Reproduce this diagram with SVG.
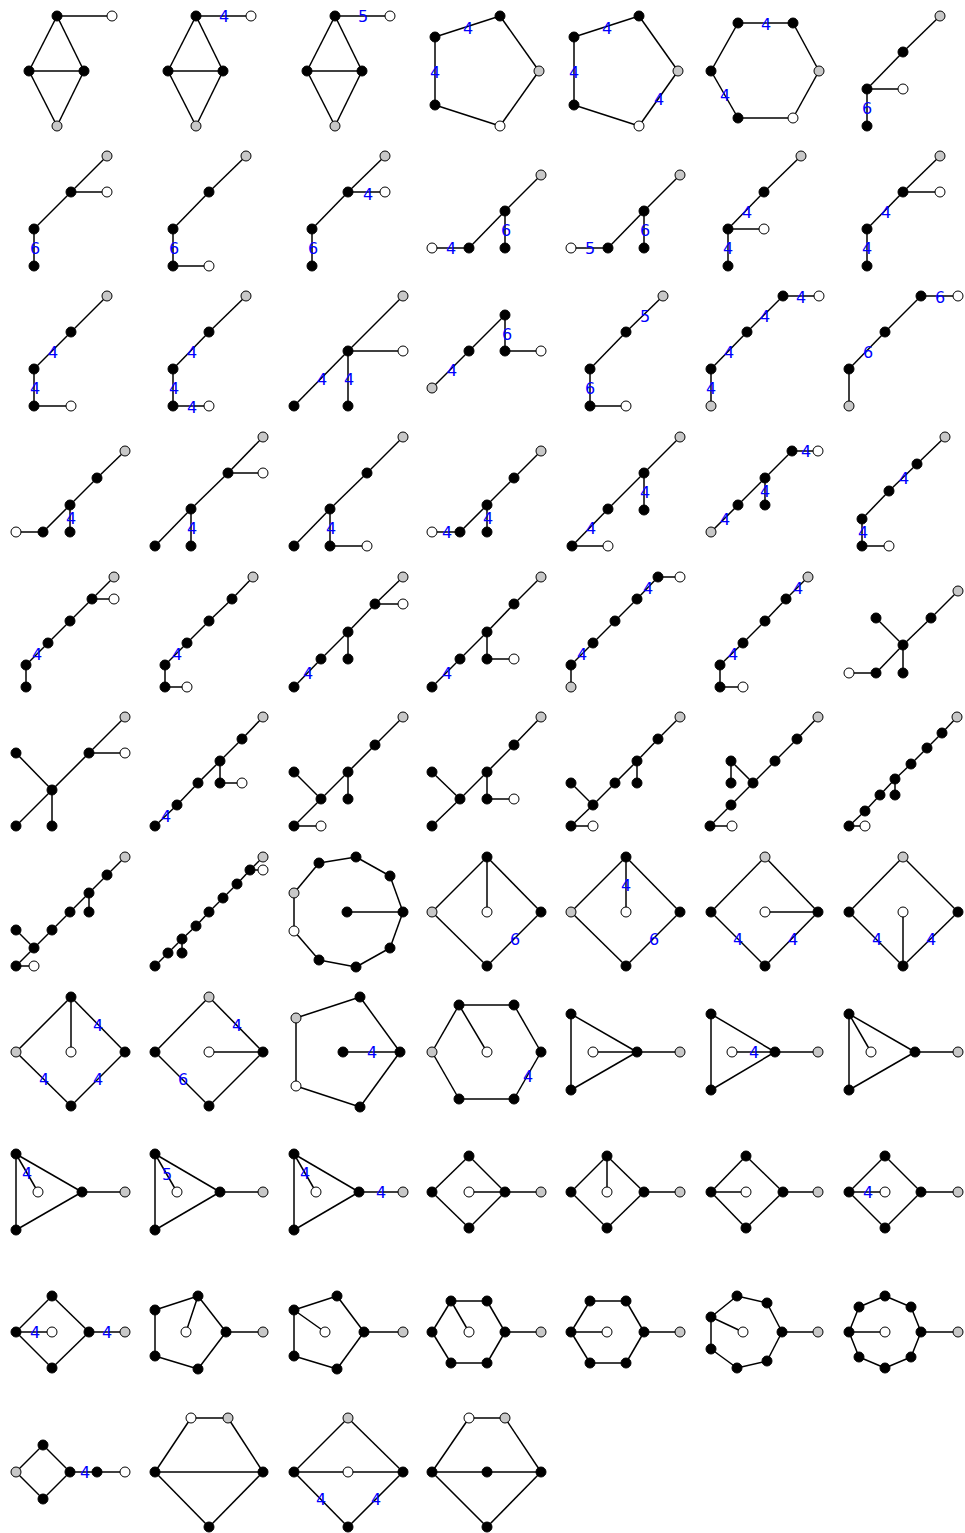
<svg xmlns="http://www.w3.org/2000/svg" width="965" height="1533" viewBox="0 0 965 1533">
<style>
line{stroke:#000;stroke-width:1.5;fill:none}
circle{stroke:#000;stroke-width:1}
.b{fill:#000}.w{fill:#fff}.g{fill:#c8c8c8}
text{font-family:"DejaVu Sans",sans-serif;font-size:16px;fill:#0000ff;text-anchor:middle}
</style>
<rect width="965" height="1533" fill="#fff"/>
<!-- Row 1 -->
<g id="g1"><g class="edges"><line x1="57" y1="16" x2="112" y2="16"/><line x1="57" y1="16" x2="29" y2="71"/><line x1="57" y1="16" x2="84" y2="71"/><line x1="29" y1="71" x2="84" y2="71"/><line x1="29" y1="71" x2="57" y2="126"/><line x1="84" y1="71" x2="57" y2="126"/></g>
<g class="nodes"><circle class="b" cx="57" cy="16" r="5"/><circle class="w" cx="112" cy="16" r="5"/><circle class="b" cx="29" cy="71" r="5"/><circle class="b" cx="84" cy="71" r="5"/><circle class="g" cx="57" cy="126" r="5"/></g></g>
<g id="g2"><g class="edges"><line x1="196" y1="16" x2="251" y2="16"/><line x1="196" y1="16" x2="168" y2="71"/><line x1="196" y1="16" x2="223" y2="71"/><line x1="168" y1="71" x2="223" y2="71"/><line x1="168" y1="71" x2="196" y2="126"/><line x1="223" y1="71" x2="196" y2="126"/></g>
<g class="nodes"><circle class="b" cx="196" cy="16" r="5"/><circle class="w" cx="251" cy="16" r="5"/><circle class="b" cx="168" cy="71" r="5"/><circle class="b" cx="223" cy="71" r="5"/><circle class="g" cx="196" cy="126" r="5"/></g>
<g class="labels"><text x="224" y="22">4</text></g></g>
<g id="g3"><g class="edges"><line x1="335" y1="16" x2="390" y2="16"/><line x1="335" y1="16" x2="307" y2="71"/><line x1="335" y1="16" x2="362" y2="71"/><line x1="307" y1="71" x2="362" y2="71"/><line x1="307" y1="71" x2="335" y2="126"/><line x1="362" y1="71" x2="335" y2="126"/></g>
<g class="nodes"><circle class="b" cx="335" cy="16" r="5"/><circle class="w" cx="390" cy="16" r="5"/><circle class="b" cx="307" cy="71" r="5"/><circle class="b" cx="362" cy="71" r="5"/><circle class="g" cx="335" cy="126" r="5"/></g>
<g class="labels"><text x="363" y="22">5</text></g></g>
<g id="g4"><g class="edges"><line x1="500" y1="16" x2="435" y2="37"/><line x1="435" y1="37" x2="435" y2="105"/><line x1="435" y1="105" x2="500" y2="126"/><line x1="500" y1="126" x2="539" y2="71"/><line x1="539" y1="71" x2="500" y2="16"/></g>
<g class="nodes"><circle class="b" cx="500" cy="16" r="5"/><circle class="b" cx="435" cy="37" r="5"/><circle class="b" cx="435" cy="105" r="5"/><circle class="w" cx="500" cy="126" r="5"/><circle class="g" cx="539" cy="71" r="5"/></g>
<g class="labels"><text x="468" y="34">4</text><text x="435" y="78">4</text></g></g>
<g id="g5"><g class="edges"><line x1="639" y1="16" x2="574" y2="37"/><line x1="574" y1="37" x2="574" y2="105"/><line x1="574" y1="105" x2="639" y2="126"/><line x1="639" y1="126" x2="678" y2="71"/><line x1="678" y1="71" x2="639" y2="16"/></g>
<g class="nodes"><circle class="b" cx="639" cy="16" r="5"/><circle class="b" cx="574" cy="37" r="5"/><circle class="b" cx="574" cy="105" r="5"/><circle class="w" cx="639" cy="126" r="5"/><circle class="g" cx="678" cy="71" r="5"/></g>
<g class="labels"><text x="607" y="34">4</text><text x="574" y="78">4</text><text x="659" y="105">4</text></g></g>
<g id="g6"><g class="edges"><line x1="738" y1="23" x2="793" y2="23"/><line x1="793" y1="23" x2="819" y2="71"/><line x1="819" y1="71" x2="793" y2="118"/><line x1="793" y1="118" x2="738" y2="118"/><line x1="738" y1="118" x2="711" y2="71"/><line x1="711" y1="71" x2="738" y2="23"/></g>
<g class="nodes"><circle class="b" cx="738" cy="23" r="5"/><circle class="b" cx="793" cy="23" r="5"/><circle class="g" cx="819" cy="71" r="5"/><circle class="w" cx="793" cy="118" r="5"/><circle class="b" cx="738" cy="118" r="5"/><circle class="b" cx="711" cy="71" r="5"/></g>
<g class="labels"><text x="766" y="30">4</text><text x="725" y="101">4</text></g></g>
<g id="g7"><g class="edges"><line x1="940" y1="16" x2="903" y2="52"/><line x1="903" y1="52" x2="867" y2="89"/><line x1="867" y1="89" x2="903" y2="89"/><line x1="867" y1="89" x2="867" y2="126"/></g>
<g class="nodes"><circle class="g" cx="940" cy="16" r="5"/><circle class="b" cx="903" cy="52" r="5"/><circle class="b" cx="867" cy="89" r="5"/><circle class="w" cx="903" cy="89" r="5"/><circle class="b" cx="867" cy="126" r="5"/></g>
<g class="labels"><text x="867" y="114">6</text></g></g>
<!-- Row 2 -->
<g id="g8"><g class="edges"><line x1="107" y1="156" x2="71" y2="192"/><line x1="71" y1="192" x2="107" y2="192"/><line x1="71" y1="192" x2="34" y2="229"/><line x1="34" y1="229" x2="34" y2="266"/></g>
<g class="nodes"><circle class="g" cx="107" cy="156" r="5"/><circle class="b" cx="71" cy="192" r="5"/><circle class="w" cx="107" cy="192" r="5"/><circle class="b" cx="34" cy="229" r="5"/><circle class="b" cx="34" cy="266" r="5"/></g>
<g class="labels"><text x="35" y="254">6</text></g></g>
<g id="g9"><g class="edges"><line x1="246" y1="156" x2="209" y2="192"/><line x1="209" y1="192" x2="173" y2="229"/><line x1="173" y1="229" x2="173" y2="266"/><line x1="173" y1="266" x2="209" y2="266"/></g>
<g class="nodes"><circle class="g" cx="246" cy="156" r="5"/><circle class="b" cx="209" cy="192" r="5"/><circle class="b" cx="173" cy="229" r="5"/><circle class="b" cx="173" cy="266" r="5"/><circle class="w" cx="209" cy="266" r="5"/></g>
<g class="labels"><text x="174" y="254">6</text></g></g>
<g id="g10"><g class="edges"><line x1="385" y1="156" x2="348" y2="192"/><line x1="348" y1="192" x2="385" y2="192"/><line x1="348" y1="192" x2="312" y2="229"/><line x1="312" y1="229" x2="312" y2="266"/></g>
<g class="nodes"><circle class="g" cx="385" cy="156" r="5"/><circle class="b" cx="348" cy="192" r="5"/><circle class="w" cx="385" cy="192" r="5"/><circle class="b" cx="312" cy="229" r="5"/><circle class="b" cx="312" cy="266" r="5"/></g>
<g class="labels"><text x="368" y="200">4</text><text x="313" y="254">6</text></g></g>
<g id="g11"><g class="edges"><line x1="541" y1="175" x2="505" y2="211"/><line x1="505" y1="211" x2="469" y2="248"/><line x1="469" y1="248" x2="432" y2="248"/><line x1="505" y1="211" x2="505" y2="248"/></g>
<g class="nodes"><circle class="g" cx="541" cy="175" r="5"/><circle class="b" cx="505" cy="211" r="5"/><circle class="b" cx="469" cy="248" r="5"/><circle class="w" cx="432" cy="248" r="5"/><circle class="b" cx="505" cy="248" r="5"/></g>
<g class="labels"><text x="451" y="254">4</text><text x="506" y="236">6</text></g></g>
<g id="g12"><g class="edges"><line x1="680" y1="175" x2="644" y2="211"/><line x1="644" y1="211" x2="608" y2="248"/><line x1="608" y1="248" x2="571" y2="248"/><line x1="644" y1="211" x2="644" y2="248"/></g>
<g class="nodes"><circle class="g" cx="680" cy="175" r="5"/><circle class="b" cx="644" cy="211" r="5"/><circle class="b" cx="608" cy="248" r="5"/><circle class="w" cx="571" cy="248" r="5"/><circle class="b" cx="644" cy="248" r="5"/></g>
<g class="labels"><text x="590" y="254">5</text><text x="645" y="236">6</text></g></g>
<g id="g13"><g class="edges"><line x1="801" y1="156" x2="764" y2="192"/><line x1="764" y1="192" x2="728" y2="229"/><line x1="728" y1="229" x2="764" y2="229"/><line x1="728" y1="229" x2="728" y2="266"/></g>
<g class="nodes"><circle class="g" cx="801" cy="156" r="5"/><circle class="b" cx="764" cy="192" r="5"/><circle class="b" cx="728" cy="229" r="5"/><circle class="w" cx="764" cy="229" r="5"/><circle class="b" cx="728" cy="266" r="5"/></g>
<g class="labels"><text x="747" y="218">4</text><text x="728" y="254">4</text></g></g>
<g id="g14"><g class="edges"><line x1="940" y1="156" x2="903" y2="192"/><line x1="903" y1="192" x2="940" y2="192"/><line x1="903" y1="192" x2="867" y2="229"/><line x1="867" y1="229" x2="867" y2="266"/></g>
<g class="nodes"><circle class="g" cx="940" cy="156" r="5"/><circle class="b" cx="903" cy="192" r="5"/><circle class="w" cx="940" cy="192" r="5"/><circle class="b" cx="867" cy="229" r="5"/><circle class="b" cx="867" cy="266" r="5"/></g>
<g class="labels"><text x="886" y="218">4</text><text x="867" y="254">4</text></g></g>
<!-- Row 3 -->
<g id="g15"><g class="edges"><line x1="107" y1="296" x2="71" y2="332"/><line x1="71" y1="332" x2="34" y2="369"/><line x1="34" y1="369" x2="34" y2="406"/><line x1="34" y1="406" x2="71" y2="406"/></g>
<g class="nodes"><circle class="g" cx="107" cy="296" r="5"/><circle class="b" cx="71" cy="332" r="5"/><circle class="b" cx="34" cy="369" r="5"/><circle class="b" cx="34" cy="406" r="5"/><circle class="w" cx="71" cy="406" r="5"/></g>
<g class="labels"><text x="53" y="358">4</text><text x="35" y="394">4</text></g></g>
<g id="g16"><g class="edges"><line x1="246" y1="296" x2="209" y2="332"/><line x1="209" y1="332" x2="173" y2="369"/><line x1="173" y1="369" x2="173" y2="406"/><line x1="173" y1="406" x2="209" y2="406"/></g>
<g class="nodes"><circle class="g" cx="246" cy="296" r="5"/><circle class="b" cx="209" cy="332" r="5"/><circle class="b" cx="173" cy="369" r="5"/><circle class="b" cx="173" cy="406" r="5"/><circle class="w" cx="209" cy="406" r="5"/></g>
<g class="labels"><text x="192" y="358">4</text><text x="174" y="394">4</text><text x="192" y="413">4</text></g></g>
<g id="g17"><g class="edges"><line x1="403" y1="296" x2="348" y2="351"/><line x1="348" y1="351" x2="403" y2="351"/><line x1="348" y1="351" x2="294" y2="406"/><line x1="348" y1="351" x2="348" y2="406"/></g>
<g class="nodes"><circle class="g" cx="403" cy="296" r="5"/><circle class="b" cx="348" cy="351" r="5"/><circle class="w" cx="403" cy="351" r="5"/><circle class="b" cx="294" cy="406" r="5"/><circle class="b" cx="348" cy="406" r="5"/></g>
<g class="labels"><text x="322" y="385">4</text><text x="349" y="385">4</text></g></g>
<g id="g18"><g class="edges"><line x1="505" y1="315" x2="505" y2="351"/><line x1="505" y1="351" x2="541" y2="351"/><line x1="505" y1="315" x2="469" y2="351"/><line x1="469" y1="351" x2="432" y2="388"/></g>
<g class="nodes"><circle class="b" cx="505" cy="315" r="5"/><circle class="b" cx="505" cy="351" r="5"/><circle class="w" cx="541" cy="351" r="5"/><circle class="b" cx="469" cy="351" r="5"/><circle class="g" cx="432" cy="388" r="5"/></g>
<g class="labels"><text x="507" y="340">6</text><text x="452" y="376">4</text></g></g>
<g id="g19"><g class="edges"><line x1="663" y1="296" x2="626" y2="332"/><line x1="626" y1="332" x2="590" y2="369"/><line x1="590" y1="369" x2="590" y2="406"/><line x1="590" y1="406" x2="626" y2="406"/></g>
<g class="nodes"><circle class="g" cx="663" cy="296" r="5"/><circle class="b" cx="626" cy="332" r="5"/><circle class="b" cx="590" cy="369" r="5"/><circle class="b" cx="590" cy="406" r="5"/><circle class="w" cx="626" cy="406" r="5"/></g>
<g class="labels"><text x="645" y="322">5</text><text x="590" y="394">6</text></g></g>
<g id="g20"><g class="edges"><line x1="819" y1="296" x2="783" y2="296"/><line x1="783" y1="296" x2="747" y2="332"/><line x1="747" y1="332" x2="711" y2="369"/><line x1="711" y1="369" x2="711" y2="406"/></g>
<g class="nodes"><circle class="w" cx="819" cy="296" r="5"/><circle class="b" cx="783" cy="296" r="5"/><circle class="b" cx="747" cy="332" r="5"/><circle class="b" cx="711" cy="369" r="5"/><circle class="g" cx="711" cy="406" r="5"/></g>
<g class="labels"><text x="801" y="303">4</text><text x="765" y="322">4</text><text x="729" y="358">4</text><text x="711" y="394">4</text></g></g>
<g id="g21"><g class="edges"><line x1="958" y1="296" x2="921" y2="296"/><line x1="921" y1="296" x2="885" y2="332"/><line x1="885" y1="332" x2="849" y2="369"/><line x1="849" y1="369" x2="849" y2="406"/></g>
<g class="nodes"><circle class="w" cx="958" cy="296" r="5"/><circle class="b" cx="921" cy="296" r="5"/><circle class="b" cx="885" cy="332" r="5"/><circle class="b" cx="849" cy="369" r="5"/><circle class="g" cx="849" cy="406" r="5"/></g>
<g class="labels"><text x="940" y="303">6</text><text x="868" y="358">6</text></g></g>
<!-- Row 4 -->
<g id="g22"><g class="edges"><line x1="125" y1="451" x2="97" y2="478"/><line x1="97" y1="478" x2="70" y2="505"/><line x1="70" y1="505" x2="70" y2="532"/><line x1="70" y1="505" x2="43" y2="532"/><line x1="43" y1="532" x2="16" y2="532"/></g>
<g class="nodes"><circle class="g" cx="125" cy="451" r="5"/><circle class="b" cx="97" cy="478" r="5"/><circle class="b" cx="70" cy="505" r="5"/><circle class="b" cx="70" cy="532" r="5"/><circle class="b" cx="43" cy="532" r="5"/><circle class="w" cx="16" cy="532" r="5"/></g>
<g class="labels"><text x="71" y="524">4</text></g></g>
<g id="g23"><g class="edges"><line x1="263" y1="437" x2="228" y2="473"/><line x1="228" y1="473" x2="263" y2="473"/><line x1="228" y1="473" x2="191" y2="509"/><line x1="191" y1="509" x2="155" y2="546"/><line x1="191" y1="509" x2="191" y2="546"/></g>
<g class="nodes"><circle class="g" cx="263" cy="437" r="5"/><circle class="b" cx="228" cy="473" r="5"/><circle class="w" cx="263" cy="473" r="5"/><circle class="b" cx="191" cy="509" r="5"/><circle class="b" cx="155" cy="546" r="5"/><circle class="b" cx="191" cy="546" r="5"/></g>
<g class="labels"><text x="192" y="534">4</text></g></g>
<g id="g24"><g class="edges"><line x1="403" y1="437" x2="367" y2="473"/><line x1="367" y1="473" x2="330" y2="509"/><line x1="330" y1="509" x2="294" y2="546"/><line x1="330" y1="509" x2="330" y2="546"/><line x1="330" y1="546" x2="367" y2="546"/></g>
<g class="nodes"><circle class="g" cx="403" cy="437" r="5"/><circle class="b" cx="367" cy="473" r="5"/><circle class="b" cx="330" cy="509" r="5"/><circle class="b" cx="294" cy="546" r="5"/><circle class="b" cx="330" cy="546" r="5"/><circle class="w" cx="367" cy="546" r="5"/></g>
<g class="labels"><text x="331" y="534">4</text></g></g>
<g id="g25"><g class="edges"><line x1="541" y1="451" x2="514" y2="478"/><line x1="514" y1="478" x2="487" y2="505"/><line x1="487" y1="505" x2="487" y2="532"/><line x1="487" y1="505" x2="460" y2="532"/><line x1="460" y1="532" x2="432" y2="532"/></g>
<g class="nodes"><circle class="g" cx="541" cy="451" r="5"/><circle class="b" cx="514" cy="478" r="5"/><circle class="b" cx="487" cy="505" r="5"/><circle class="b" cx="487" cy="532" r="5"/><circle class="b" cx="460" cy="532" r="5"/><circle class="w" cx="432" cy="532" r="5"/></g>
<g class="labels"><text x="488" y="524">4</text><text x="447" y="538">4</text></g></g>
<g id="g26"><g class="edges"><line x1="680" y1="437" x2="644" y2="473"/><line x1="644" y1="473" x2="608" y2="509"/><line x1="644" y1="473" x2="644" y2="510"/><line x1="608" y1="509" x2="572" y2="546"/><line x1="572" y1="546" x2="608" y2="546"/></g>
<g class="nodes"><circle class="g" cx="680" cy="437" r="5"/><circle class="b" cx="644" cy="473" r="5"/><circle class="b" cx="608" cy="509" r="5"/><circle class="b" cx="644" cy="510" r="5"/><circle class="b" cx="572" cy="546" r="5"/><circle class="w" cx="608" cy="546" r="5"/></g>
<g class="labels"><text x="645" y="498">4</text><text x="591" y="534">4</text></g></g>
<g id="g27"><g class="edges"><line x1="818" y1="451" x2="792" y2="451"/><line x1="792" y1="451" x2="765" y2="478"/><line x1="765" y1="478" x2="738" y2="505"/><line x1="765" y1="478" x2="765" y2="505"/><line x1="738" y1="505" x2="711" y2="532"/></g>
<g class="nodes"><circle class="w" cx="818" cy="451" r="5"/><circle class="b" cx="792" cy="451" r="5"/><circle class="b" cx="765" cy="478" r="5"/><circle class="b" cx="738" cy="505" r="5"/><circle class="g" cx="711" cy="532" r="5"/><circle class="b" cx="765" cy="505" r="5"/></g>
<g class="labels"><text x="806" y="457">4</text><text x="765" y="497">4</text><text x="725" y="525">4</text></g></g>
<g id="g28"><g class="edges"><line x1="945" y1="437" x2="917" y2="464"/><line x1="917" y1="464" x2="889" y2="491"/><line x1="889" y1="491" x2="862" y2="519"/><line x1="862" y1="519" x2="862" y2="546"/><line x1="862" y1="546" x2="889" y2="546"/></g>
<g class="nodes"><circle class="g" cx="945" cy="437" r="5"/><circle class="b" cx="917" cy="464" r="5"/><circle class="b" cx="889" cy="491" r="5"/><circle class="b" cx="862" cy="519" r="5"/><circle class="b" cx="862" cy="546" r="5"/><circle class="w" cx="889" cy="546" r="5"/></g>
<g class="labels"><text x="904" y="484">4</text><text x="863" y="538">4</text></g></g>
<!-- Row 5 -->
<g id="g29"><g class="edges"><line x1="114" y1="577" x2="92" y2="599"/><line x1="92" y1="599" x2="114" y2="599"/><line x1="92" y1="599" x2="70" y2="621"/><line x1="70" y1="621" x2="48" y2="643"/><line x1="48" y1="643" x2="26" y2="665"/><line x1="26" y1="665" x2="26" y2="687"/></g>
<g class="nodes"><circle class="g" cx="114" cy="577" r="5"/><circle class="b" cx="92" cy="599" r="5"/><circle class="w" cx="114" cy="599" r="5"/><circle class="b" cx="70" cy="621" r="5"/><circle class="b" cx="48" cy="643" r="5"/><circle class="b" cx="26" cy="665" r="5"/><circle class="b" cx="26" cy="687" r="5"/></g>
<g class="labels"><text x="37" y="660">4</text></g></g>
<g id="g30"><g class="edges"><line x1="253" y1="577" x2="232" y2="599"/><line x1="232" y1="599" x2="209" y2="621"/><line x1="209" y1="621" x2="187" y2="643"/><line x1="187" y1="643" x2="165" y2="665"/><line x1="165" y1="665" x2="165" y2="687"/><line x1="165" y1="687" x2="187" y2="687"/></g>
<g class="nodes"><circle class="g" cx="253" cy="577" r="5"/><circle class="b" cx="232" cy="599" r="5"/><circle class="b" cx="209" cy="621" r="5"/><circle class="b" cx="187" cy="643" r="5"/><circle class="b" cx="165" cy="665" r="5"/><circle class="b" cx="165" cy="687" r="5"/><circle class="w" cx="187" cy="687" r="5"/></g>
<g class="labels"><text x="177" y="660">4</text></g></g>
<g id="g31"><g class="edges"><line x1="403" y1="577" x2="375" y2="604"/><line x1="375" y1="604" x2="403" y2="604"/><line x1="375" y1="604" x2="348" y2="632"/><line x1="348" y1="632" x2="348" y2="659"/><line x1="348" y1="632" x2="321" y2="659"/><line x1="321" y1="659" x2="294" y2="687"/></g>
<g class="nodes"><circle class="g" cx="403" cy="577" r="5"/><circle class="b" cx="375" cy="604" r="5"/><circle class="w" cx="403" cy="604" r="5"/><circle class="b" cx="348" cy="632" r="5"/><circle class="b" cx="348" cy="659" r="5"/><circle class="b" cx="321" cy="659" r="5"/><circle class="b" cx="294" cy="687" r="5"/></g>
<g class="labels"><text x="308" y="679">4</text></g></g>
<g id="g32"><g class="edges"><line x1="541" y1="577" x2="514" y2="604"/><line x1="514" y1="604" x2="487" y2="632"/><line x1="487" y1="632" x2="487" y2="659"/><line x1="487" y1="659" x2="514" y2="659"/><line x1="487" y1="632" x2="460" y2="659"/><line x1="460" y1="659" x2="432" y2="687"/></g>
<g class="nodes"><circle class="g" cx="541" cy="577" r="5"/><circle class="b" cx="514" cy="604" r="5"/><circle class="b" cx="487" cy="632" r="5"/><circle class="b" cx="487" cy="659" r="5"/><circle class="w" cx="514" cy="659" r="5"/><circle class="b" cx="460" cy="659" r="5"/><circle class="b" cx="432" cy="687" r="5"/></g>
<g class="labels"><text x="447" y="679">4</text></g></g>
<g id="g33"><g class="edges"><line x1="680" y1="577" x2="658" y2="577"/><line x1="658" y1="577" x2="637" y2="599"/><line x1="637" y1="599" x2="615" y2="621"/><line x1="615" y1="621" x2="593" y2="643"/><line x1="593" y1="643" x2="571" y2="665"/><line x1="571" y1="665" x2="571" y2="687"/></g>
<g class="nodes"><circle class="w" cx="680" cy="577" r="5"/><circle class="b" cx="658" cy="577" r="5"/><circle class="b" cx="637" cy="599" r="5"/><circle class="b" cx="615" cy="621" r="5"/><circle class="b" cx="593" cy="643" r="5"/><circle class="b" cx="571" cy="665" r="5"/><circle class="g" cx="571" cy="687" r="5"/></g>
<g class="labels"><text x="648" y="594">4</text><text x="582" y="660">4</text></g></g>
<g id="g34"><g class="edges"><line x1="808" y1="577" x2="786" y2="599"/><line x1="786" y1="599" x2="765" y2="621"/><line x1="765" y1="621" x2="743" y2="643"/><line x1="743" y1="643" x2="720" y2="665"/><line x1="720" y1="665" x2="720" y2="687"/><line x1="720" y1="687" x2="743" y2="687"/></g>
<g class="nodes"><circle class="g" cx="808" cy="577" r="5"/><circle class="b" cx="786" cy="599" r="5"/><circle class="b" cx="765" cy="621" r="5"/><circle class="b" cx="743" cy="643" r="5"/><circle class="b" cx="720" cy="665" r="5"/><circle class="b" cx="720" cy="687" r="5"/><circle class="w" cx="743" cy="687" r="5"/></g>
<g class="labels"><text x="798" y="594">4</text><text x="733" y="660">4</text></g></g>
<g id="g35"><g class="edges"><line x1="958" y1="591" x2="931" y2="618"/><line x1="931" y1="618" x2="903" y2="645"/><line x1="903" y1="645" x2="876" y2="618"/><line x1="903" y1="645" x2="903" y2="673"/><line x1="903" y1="645" x2="876" y2="673"/><line x1="876" y1="673" x2="849" y2="673"/></g>
<g class="nodes"><circle class="g" cx="958" cy="591" r="5"/><circle class="b" cx="931" cy="618" r="5"/><circle class="b" cx="903" cy="645" r="5"/><circle class="b" cx="876" cy="618" r="5"/><circle class="b" cx="903" cy="673" r="5"/><circle class="b" cx="876" cy="673" r="5"/><circle class="w" cx="849" cy="673" r="5"/></g></g>
<!-- Row 6 -->
<g id="g36"><g class="edges"><line x1="125" y1="717" x2="89" y2="753"/><line x1="89" y1="753" x2="125" y2="753"/><line x1="89" y1="753" x2="52" y2="790"/><line x1="52" y1="790" x2="16" y2="753"/><line x1="52" y1="790" x2="16" y2="826"/><line x1="52" y1="790" x2="52" y2="826"/></g>
<g class="nodes"><circle class="g" cx="125" cy="717" r="5"/><circle class="b" cx="89" cy="753" r="5"/><circle class="w" cx="125" cy="753" r="5"/><circle class="b" cx="52" cy="790" r="5"/><circle class="b" cx="16" cy="753" r="5"/><circle class="b" cx="16" cy="826" r="5"/><circle class="b" cx="52" cy="826" r="5"/></g></g>
<g id="g37"><g class="edges"><line x1="263" y1="717" x2="242" y2="739"/><line x1="242" y1="739" x2="220" y2="761"/><line x1="220" y1="761" x2="220" y2="783"/><line x1="220" y1="783" x2="242" y2="783"/><line x1="220" y1="761" x2="198" y2="783"/><line x1="198" y1="783" x2="177" y2="805"/><line x1="177" y1="805" x2="155" y2="826"/></g>
<g class="nodes"><circle class="g" cx="263" cy="717" r="5"/><circle class="b" cx="242" cy="739" r="5"/><circle class="b" cx="220" cy="761" r="5"/><circle class="b" cx="220" cy="783" r="5"/><circle class="w" cx="242" cy="783" r="5"/><circle class="b" cx="198" cy="783" r="5"/><circle class="b" cx="177" cy="805" r="5"/><circle class="b" cx="155" cy="826" r="5"/></g>
<g class="labels"><text x="166" y="822">4</text></g></g>
<g id="g38"><g class="edges"><line x1="403" y1="717" x2="375" y2="745"/><line x1="375" y1="745" x2="348" y2="772"/><line x1="348" y1="772" x2="348" y2="799"/><line x1="348" y1="772" x2="321" y2="799"/><line x1="321" y1="799" x2="294" y2="772"/><line x1="321" y1="799" x2="294" y2="826"/><line x1="294" y1="826" x2="321" y2="826"/></g>
<g class="nodes"><circle class="g" cx="403" cy="717" r="5"/><circle class="b" cx="375" cy="745" r="5"/><circle class="b" cx="348" cy="772" r="5"/><circle class="b" cx="348" cy="799" r="5"/><circle class="b" cx="321" cy="799" r="5"/><circle class="b" cx="294" cy="772" r="5"/><circle class="b" cx="294" cy="826" r="5"/><circle class="w" cx="321" cy="826" r="5"/></g></g>
<g id="g39"><g class="edges"><line x1="541" y1="717" x2="514" y2="745"/><line x1="514" y1="745" x2="487" y2="772"/><line x1="487" y1="772" x2="487" y2="799"/><line x1="487" y1="799" x2="514" y2="799"/><line x1="487" y1="772" x2="460" y2="799"/><line x1="460" y1="799" x2="432" y2="772"/><line x1="460" y1="799" x2="432" y2="826"/></g>
<g class="nodes"><circle class="g" cx="541" cy="717" r="5"/><circle class="b" cx="514" cy="745" r="5"/><circle class="b" cx="487" cy="772" r="5"/><circle class="b" cx="487" cy="799" r="5"/><circle class="w" cx="514" cy="799" r="5"/><circle class="b" cx="460" cy="799" r="5"/><circle class="b" cx="432" cy="772" r="5"/><circle class="b" cx="432" cy="826" r="5"/></g></g>
<g id="g40"><g class="edges"><line x1="680" y1="717" x2="658" y2="739"/><line x1="658" y1="739" x2="637" y2="761"/><line x1="637" y1="761" x2="637" y2="783"/><line x1="637" y1="761" x2="615" y2="783"/><line x1="615" y1="783" x2="593" y2="805"/><line x1="593" y1="805" x2="571" y2="783"/><line x1="593" y1="805" x2="571" y2="826"/><line x1="571" y1="826" x2="593" y2="826"/></g>
<g class="nodes"><circle class="g" cx="680" cy="717" r="5"/><circle class="b" cx="658" cy="739" r="5"/><circle class="b" cx="637" cy="761" r="5"/><circle class="b" cx="637" cy="783" r="5"/><circle class="b" cx="615" cy="783" r="5"/><circle class="b" cx="593" cy="805" r="5"/><circle class="b" cx="571" cy="783" r="5"/><circle class="b" cx="571" cy="826" r="5"/><circle class="w" cx="593" cy="826" r="5"/></g></g>
<g id="g41"><g class="edges"><line x1="818" y1="717" x2="797" y2="739"/><line x1="797" y1="739" x2="775" y2="761"/><line x1="775" y1="761" x2="753" y2="783"/><line x1="753" y1="783" x2="731" y2="761"/><line x1="731" y1="761" x2="731" y2="783"/><line x1="753" y1="783" x2="731" y2="805"/><line x1="731" y1="805" x2="710" y2="826"/><line x1="710" y1="826" x2="732" y2="826"/></g>
<g class="nodes"><circle class="g" cx="818" cy="717" r="5"/><circle class="b" cx="797" cy="739" r="5"/><circle class="b" cx="775" cy="761" r="5"/><circle class="b" cx="753" cy="783" r="5"/><circle class="b" cx="731" cy="761" r="5"/><circle class="b" cx="731" cy="783" r="5"/><circle class="b" cx="731" cy="805" r="5"/><circle class="b" cx="710" cy="826" r="5"/><circle class="w" cx="732" cy="826" r="5"/></g></g>
<g id="g42"><g class="edges"><line x1="957" y1="717" x2="942" y2="733"/><line x1="942" y1="733" x2="927" y2="748"/><line x1="927" y1="748" x2="911" y2="764"/><line x1="911" y1="764" x2="895" y2="779"/><line x1="895" y1="779" x2="895" y2="795"/><line x1="895" y1="779" x2="880" y2="795"/><line x1="880" y1="795" x2="865" y2="811"/><line x1="865" y1="811" x2="849" y2="826"/><line x1="849" y1="826" x2="865" y2="826"/></g>
<g class="nodes"><circle class="g" cx="957" cy="717" r="5"/><circle class="b" cx="942" cy="733" r="5"/><circle class="b" cx="927" cy="748" r="5"/><circle class="b" cx="911" cy="764" r="5"/><circle class="b" cx="895" cy="779" r="5"/><circle class="b" cx="895" cy="795" r="5"/><circle class="b" cx="880" cy="795" r="5"/><circle class="b" cx="865" cy="811" r="5"/><circle class="b" cx="849" cy="826" r="5"/><circle class="w" cx="865" cy="826" r="5"/></g></g>
<!-- Row 7 -->
<g id="g43"><g class="edges"><line x1="125" y1="857" x2="107" y2="875"/><line x1="107" y1="875" x2="89" y2="893"/><line x1="89" y1="893" x2="89" y2="912"/><line x1="89" y1="893" x2="70" y2="912"/><line x1="70" y1="912" x2="52" y2="930"/><line x1="52" y1="930" x2="34" y2="948"/><line x1="34" y1="948" x2="16" y2="930"/><line x1="34" y1="948" x2="16" y2="966"/><line x1="16" y1="966" x2="34" y2="966"/></g>
<g class="nodes"><circle class="g" cx="125" cy="857" r="5"/><circle class="b" cx="107" cy="875" r="5"/><circle class="b" cx="89" cy="893" r="5"/><circle class="b" cx="89" cy="912" r="5"/><circle class="b" cx="70" cy="912" r="5"/><circle class="b" cx="52" cy="930" r="5"/><circle class="b" cx="34" cy="948" r="5"/><circle class="b" cx="16" cy="930" r="5"/><circle class="b" cx="16" cy="966" r="5"/><circle class="w" cx="34" cy="966" r="5"/></g></g>
<g id="g44"><g class="edges"><line x1="263" y1="857" x2="250" y2="870"/><line x1="250" y1="870" x2="263" y2="870"/><line x1="250" y1="870" x2="237" y2="884"/><line x1="237" y1="884" x2="223" y2="898"/><line x1="223" y1="898" x2="209" y2="912"/><line x1="209" y1="912" x2="196" y2="926"/><line x1="196" y1="926" x2="182" y2="939"/><line x1="182" y1="939" x2="182" y2="953"/><line x1="182" y1="939" x2="168" y2="953"/><line x1="168" y1="953" x2="155" y2="966"/></g>
<g class="nodes"><circle class="g" cx="263" cy="857" r="5"/><circle class="b" cx="250" cy="870" r="5"/><circle class="w" cx="263" cy="870" r="5"/><circle class="b" cx="237" cy="884" r="5"/><circle class="b" cx="223" cy="898" r="5"/><circle class="b" cx="209" cy="912" r="5"/><circle class="b" cx="196" cy="926" r="5"/><circle class="b" cx="182" cy="939" r="5"/><circle class="b" cx="182" cy="953" r="5"/><circle class="b" cx="168" cy="953" r="5"/><circle class="b" cx="155" cy="966" r="5"/></g></g>
<g id="g45"><g class="edges"><line x1="356" y1="857" x2="319" y2="863"/><line x1="319" y1="863" x2="294" y2="893"/><line x1="294" y1="893" x2="294" y2="931"/><line x1="294" y1="931" x2="319" y2="960"/><line x1="319" y1="960" x2="356" y2="967"/><line x1="356" y1="967" x2="390" y2="948"/><line x1="390" y1="948" x2="403" y2="912"/><line x1="403" y1="912" x2="390" y2="876"/><line x1="390" y1="876" x2="356" y2="857"/><line x1="347" y1="912" x2="403" y2="912"/></g>
<g class="nodes"><circle class="b" cx="356" cy="857" r="5"/><circle class="b" cx="319" cy="863" r="5"/><circle class="g" cx="294" cy="893" r="5"/><circle class="w" cx="294" cy="931" r="5"/><circle class="b" cx="319" cy="960" r="5"/><circle class="b" cx="356" cy="967" r="5"/><circle class="b" cx="390" cy="948" r="5"/><circle class="b" cx="403" cy="912" r="5"/><circle class="b" cx="390" cy="876" r="5"/><circle class="b" cx="347" cy="912" r="5"/></g></g>
<g id="g46"><g class="edges"><line x1="487" y1="857" x2="432" y2="912"/><line x1="487" y1="857" x2="541" y2="912"/><line x1="487" y1="857" x2="487" y2="912"/><line x1="432" y1="912" x2="487" y2="966"/><line x1="541" y1="912" x2="487" y2="966"/></g>
<g class="nodes"><circle class="b" cx="487" cy="857" r="5"/><circle class="g" cx="432" cy="912" r="5"/><circle class="w" cx="487" cy="912" r="5"/><circle class="b" cx="541" cy="912" r="5"/><circle class="b" cx="487" cy="966" r="5"/></g>
<g class="labels"><text x="515" y="945">6</text></g></g>
<g id="g47"><g class="edges"><line x1="626" y1="857" x2="571" y2="912"/><line x1="626" y1="857" x2="680" y2="912"/><line x1="626" y1="857" x2="626" y2="912"/><line x1="571" y1="912" x2="626" y2="966"/><line x1="680" y1="912" x2="626" y2="966"/></g>
<g class="nodes"><circle class="b" cx="626" cy="857" r="5"/><circle class="g" cx="571" cy="912" r="5"/><circle class="w" cx="626" cy="912" r="5"/><circle class="b" cx="680" cy="912" r="5"/><circle class="b" cx="626" cy="966" r="5"/></g>
<g class="labels"><text x="626" y="891">4</text><text x="654" y="945">6</text></g></g>
<g id="g48"><g class="edges"><line x1="765" y1="857" x2="711" y2="912"/><line x1="765" y1="857" x2="818" y2="912"/><line x1="765" y1="912" x2="818" y2="912"/><line x1="711" y1="912" x2="765" y2="966"/><line x1="818" y1="912" x2="765" y2="966"/></g>
<g class="nodes"><circle class="g" cx="765" cy="857" r="5"/><circle class="b" cx="711" cy="912" r="5"/><circle class="w" cx="765" cy="912" r="5"/><circle class="b" cx="818" cy="912" r="5"/><circle class="b" cx="765" cy="966" r="5"/></g>
<g class="labels"><text x="738" y="945">4</text><text x="793" y="945">4</text></g></g>
<g id="g49"><g class="edges"><line x1="903" y1="857" x2="849" y2="912"/><line x1="903" y1="857" x2="958" y2="912"/><line x1="903" y1="912" x2="903" y2="966"/><line x1="849" y1="912" x2="903" y2="966"/><line x1="958" y1="912" x2="903" y2="966"/></g>
<g class="nodes"><circle class="g" cx="903" cy="857" r="5"/><circle class="b" cx="849" cy="912" r="5"/><circle class="w" cx="903" cy="912" r="5"/><circle class="b" cx="958" cy="912" r="5"/><circle class="b" cx="903" cy="966" r="5"/></g>
<g class="labels"><text x="877" y="945">4</text><text x="931" y="945">4</text></g></g>
<!-- Row 8 -->
<g id="g50"><g class="edges"><line x1="71" y1="997" x2="16" y2="1052"/><line x1="71" y1="997" x2="125" y2="1052"/><line x1="71" y1="997" x2="71" y2="1052"/><line x1="16" y1="1052" x2="71" y2="1106"/><line x1="125" y1="1052" x2="71" y2="1106"/></g>
<g class="nodes"><circle class="b" cx="71" cy="997" r="5"/><circle class="g" cx="16" cy="1052" r="5"/><circle class="w" cx="71" cy="1052" r="5"/><circle class="b" cx="125" cy="1052" r="5"/><circle class="b" cx="71" cy="1106" r="5"/></g>
<g class="labels"><text x="98" y="1031">4</text><text x="44" y="1085">4</text><text x="98" y="1085">4</text></g></g>
<g id="g51"><g class="edges"><line x1="209" y1="997" x2="155" y2="1052"/><line x1="209" y1="997" x2="263" y2="1052"/><line x1="209" y1="1052" x2="263" y2="1052"/><line x1="155" y1="1052" x2="209" y2="1106"/><line x1="263" y1="1052" x2="209" y2="1106"/></g>
<g class="nodes"><circle class="g" cx="209" cy="997" r="5"/><circle class="b" cx="155" cy="1052" r="5"/><circle class="w" cx="209" cy="1052" r="5"/><circle class="b" cx="263" cy="1052" r="5"/><circle class="b" cx="209" cy="1106" r="5"/></g>
<g class="labels"><text x="237" y="1031">4</text><text x="183" y="1085">6</text></g></g>
<g id="g52"><g class="edges"><line x1="360" y1="997" x2="296" y2="1018"/><line x1="296" y1="1018" x2="296" y2="1086"/><line x1="296" y1="1086" x2="360" y2="1107"/><line x1="360" y1="1107" x2="400" y2="1052"/><line x1="400" y1="1052" x2="360" y2="997"/><line x1="343" y1="1052" x2="400" y2="1052"/></g>
<g class="nodes"><circle class="b" cx="360" cy="997" r="5"/><circle class="g" cx="296" cy="1018" r="5"/><circle class="w" cx="296" cy="1086" r="5"/><circle class="b" cx="360" cy="1107" r="5"/><circle class="b" cx="400" cy="1052" r="5"/><circle class="b" cx="343" cy="1052" r="5"/></g>
<g class="labels"><text x="372" y="1058">4</text></g></g>
<g id="g53"><g class="edges"><line x1="459" y1="1005" x2="514" y2="1005"/><line x1="514" y1="1005" x2="541" y2="1052"/><line x1="541" y1="1052" x2="514" y2="1099"/><line x1="514" y1="1099" x2="459" y2="1099"/><line x1="459" y1="1099" x2="432" y2="1052"/><line x1="432" y1="1052" x2="459" y2="1005"/><line x1="459" y1="1005" x2="487" y2="1052"/></g>
<g class="nodes"><circle class="b" cx="459" cy="1005" r="5"/><circle class="b" cx="514" cy="1005" r="5"/><circle class="b" cx="541" cy="1052" r="5"/><circle class="b" cx="514" cy="1099" r="5"/><circle class="b" cx="459" cy="1099" r="5"/><circle class="g" cx="432" cy="1052" r="5"/><circle class="w" cx="487" cy="1052" r="5"/></g>
<g class="labels"><text x="528" y="1082">4</text></g></g>
<g id="g54"><g class="edges"><line x1="571" y1="1014" x2="637" y2="1052"/><line x1="637" y1="1052" x2="571" y2="1090"/><line x1="571" y1="1090" x2="571" y2="1014"/><line x1="593" y1="1052" x2="637" y2="1052"/><line x1="637" y1="1052" x2="680" y2="1052"/></g>
<g class="nodes"><circle class="b" cx="571" cy="1014" r="5"/><circle class="w" cx="593" cy="1052" r="5"/><circle class="b" cx="637" cy="1052" r="5"/><circle class="g" cx="680" cy="1052" r="5"/><circle class="b" cx="571" cy="1090" r="5"/></g></g>
<g id="g55"><g class="edges"><line x1="711" y1="1014" x2="775" y2="1052"/><line x1="775" y1="1052" x2="711" y2="1090"/><line x1="711" y1="1090" x2="711" y2="1014"/><line x1="732" y1="1052" x2="775" y2="1052"/><line x1="775" y1="1052" x2="818" y2="1052"/></g>
<g class="nodes"><circle class="b" cx="711" cy="1014" r="5"/><circle class="w" cx="732" cy="1052" r="5"/><circle class="b" cx="775" cy="1052" r="5"/><circle class="g" cx="818" cy="1052" r="5"/><circle class="b" cx="711" cy="1090" r="5"/></g>
<g class="labels"><text x="754" y="1058">4</text></g></g>
<g id="g56"><g class="edges"><line x1="849" y1="1014" x2="915" y2="1052"/><line x1="915" y1="1052" x2="849" y2="1090"/><line x1="849" y1="1090" x2="849" y2="1014"/><line x1="849" y1="1014" x2="871" y2="1052"/><line x1="915" y1="1052" x2="958" y2="1052"/></g>
<g class="nodes"><circle class="b" cx="849" cy="1014" r="5"/><circle class="w" cx="871" cy="1052" r="5"/><circle class="b" cx="915" cy="1052" r="5"/><circle class="g" cx="958" cy="1052" r="5"/><circle class="b" cx="849" cy="1090" r="5"/></g></g>
<!-- Row 9 -->
<g id="g57"><g class="edges"><line x1="16" y1="1154" x2="82" y2="1192"/><line x1="82" y1="1192" x2="16" y2="1230"/><line x1="16" y1="1230" x2="16" y2="1154"/><line x1="16" y1="1154" x2="38" y2="1192"/><line x1="82" y1="1192" x2="125" y2="1192"/></g>
<g class="nodes"><circle class="b" cx="16" cy="1154" r="5"/><circle class="w" cx="38" cy="1192" r="5"/><circle class="b" cx="82" cy="1192" r="5"/><circle class="g" cx="125" cy="1192" r="5"/><circle class="b" cx="16" cy="1230" r="5"/></g>
<g class="labels"><text x="27" y="1179">4</text></g></g>
<g id="g58"><g class="edges"><line x1="155" y1="1154" x2="220" y2="1192"/><line x1="220" y1="1192" x2="155" y2="1230"/><line x1="155" y1="1230" x2="155" y2="1154"/><line x1="155" y1="1154" x2="177" y2="1192"/><line x1="220" y1="1192" x2="263" y2="1192"/></g>
<g class="nodes"><circle class="b" cx="155" cy="1154" r="5"/><circle class="w" cx="177" cy="1192" r="5"/><circle class="b" cx="220" cy="1192" r="5"/><circle class="g" cx="263" cy="1192" r="5"/><circle class="b" cx="155" cy="1230" r="5"/></g>
<g class="labels"><text x="167" y="1180">5</text></g></g>
<g id="g59"><g class="edges"><line x1="294" y1="1154" x2="359" y2="1192"/><line x1="359" y1="1192" x2="294" y2="1230"/><line x1="294" y1="1230" x2="294" y2="1154"/><line x1="294" y1="1154" x2="316" y2="1192"/><line x1="359" y1="1192" x2="403" y2="1192"/></g>
<g class="nodes"><circle class="b" cx="294" cy="1154" r="5"/><circle class="w" cx="316" cy="1192" r="5"/><circle class="b" cx="359" cy="1192" r="5"/><circle class="g" cx="403" cy="1192" r="5"/><circle class="b" cx="294" cy="1230" r="5"/></g>
<g class="labels"><text x="305" y="1179">4</text><text x="381" y="1198">4</text></g></g>
<g id="g60"><g class="edges"><line x1="469" y1="1156" x2="432" y2="1192"/><line x1="469" y1="1156" x2="505" y2="1192"/><line x1="432" y1="1192" x2="469" y2="1228"/><line x1="505" y1="1192" x2="469" y2="1228"/><line x1="469" y1="1192" x2="505" y2="1192"/><line x1="505" y1="1192" x2="541" y2="1192"/></g>
<g class="nodes"><circle class="b" cx="469" cy="1156" r="5"/><circle class="b" cx="432" cy="1192" r="5"/><circle class="w" cx="469" cy="1192" r="5"/><circle class="b" cx="505" cy="1192" r="5"/><circle class="g" cx="541" cy="1192" r="5"/><circle class="b" cx="469" cy="1228" r="5"/></g></g>
<g id="g61"><g class="edges"><line x1="607" y1="1156" x2="571" y2="1192"/><line x1="607" y1="1156" x2="644" y2="1192"/><line x1="571" y1="1192" x2="607" y2="1228"/><line x1="644" y1="1192" x2="607" y2="1228"/><line x1="607" y1="1156" x2="607" y2="1192"/><line x1="644" y1="1192" x2="680" y2="1192"/></g>
<g class="nodes"><circle class="b" cx="607" cy="1156" r="5"/><circle class="b" cx="571" cy="1192" r="5"/><circle class="w" cx="607" cy="1192" r="5"/><circle class="b" cx="644" cy="1192" r="5"/><circle class="g" cx="680" cy="1192" r="5"/><circle class="b" cx="607" cy="1228" r="5"/></g></g>
<g id="g62"><g class="edges"><line x1="746" y1="1156" x2="711" y2="1192"/><line x1="746" y1="1156" x2="783" y2="1192"/><line x1="711" y1="1192" x2="746" y2="1228"/><line x1="783" y1="1192" x2="746" y2="1228"/><line x1="711" y1="1192" x2="746" y2="1192"/><line x1="783" y1="1192" x2="818" y2="1192"/></g>
<g class="nodes"><circle class="b" cx="746" cy="1156" r="5"/><circle class="b" cx="711" cy="1192" r="5"/><circle class="w" cx="746" cy="1192" r="5"/><circle class="b" cx="783" cy="1192" r="5"/><circle class="g" cx="818" cy="1192" r="5"/><circle class="b" cx="746" cy="1228" r="5"/></g></g>
<g id="g63"><g class="edges"><line x1="885" y1="1156" x2="849" y2="1192"/><line x1="885" y1="1156" x2="921" y2="1192"/><line x1="849" y1="1192" x2="885" y2="1228"/><line x1="921" y1="1192" x2="885" y2="1228"/><line x1="849" y1="1192" x2="885" y2="1192"/><line x1="921" y1="1192" x2="958" y2="1192"/></g>
<g class="nodes"><circle class="b" cx="885" cy="1156" r="5"/><circle class="b" cx="849" cy="1192" r="5"/><circle class="w" cx="885" cy="1192" r="5"/><circle class="b" cx="921" cy="1192" r="5"/><circle class="g" cx="958" cy="1192" r="5"/><circle class="b" cx="885" cy="1228" r="5"/></g>
<g class="labels"><text x="868" y="1198">4</text></g></g>
<!-- Row 10 -->
<g id="g64"><g class="edges"><line x1="52" y1="1296" x2="16" y2="1332"/><line x1="52" y1="1296" x2="89" y2="1332"/><line x1="16" y1="1332" x2="52" y2="1368"/><line x1="89" y1="1332" x2="52" y2="1368"/><line x1="16" y1="1332" x2="52" y2="1332"/><line x1="89" y1="1332" x2="125" y2="1332"/></g>
<g class="nodes"><circle class="b" cx="52" cy="1296" r="5"/><circle class="b" cx="16" cy="1332" r="5"/><circle class="w" cx="52" cy="1332" r="5"/><circle class="b" cx="89" cy="1332" r="5"/><circle class="g" cx="125" cy="1332" r="5"/><circle class="b" cx="52" cy="1368" r="5"/></g>
<g class="labels"><text x="35" y="1338">4</text><text x="107" y="1338">4</text></g></g>
<g id="g65"><g class="edges"><line x1="198" y1="1296" x2="155" y2="1310"/><line x1="155" y1="1310" x2="155" y2="1356"/><line x1="155" y1="1356" x2="198" y2="1369"/><line x1="198" y1="1369" x2="226" y2="1332"/><line x1="226" y1="1332" x2="198" y2="1296"/><line x1="198" y1="1296" x2="186" y2="1332"/><line x1="226" y1="1332" x2="263" y2="1332"/></g>
<g class="nodes"><circle class="b" cx="198" cy="1296" r="5"/><circle class="b" cx="155" cy="1310" r="5"/><circle class="b" cx="155" cy="1356" r="5"/><circle class="b" cx="198" cy="1369" r="5"/><circle class="b" cx="226" cy="1332" r="5"/><circle class="g" cx="263" cy="1332" r="5"/><circle class="w" cx="186" cy="1332" r="5"/></g></g>
<g id="g66"><g class="edges"><line x1="337" y1="1296" x2="294" y2="1310"/><line x1="294" y1="1310" x2="294" y2="1356"/><line x1="294" y1="1356" x2="337" y2="1369"/><line x1="337" y1="1369" x2="364" y2="1332"/><line x1="364" y1="1332" x2="337" y2="1296"/><line x1="294" y1="1310" x2="325" y2="1332"/><line x1="364" y1="1332" x2="403" y2="1332"/></g>
<g class="nodes"><circle class="b" cx="337" cy="1296" r="5"/><circle class="b" cx="294" cy="1310" r="5"/><circle class="b" cx="294" cy="1356" r="5"/><circle class="b" cx="337" cy="1369" r="5"/><circle class="b" cx="364" cy="1332" r="5"/><circle class="g" cx="403" cy="1332" r="5"/><circle class="w" cx="325" cy="1332" r="5"/></g></g>
<g id="g67"><g class="edges"><line x1="451" y1="1301" x2="487" y2="1301"/><line x1="487" y1="1301" x2="505" y2="1332"/><line x1="505" y1="1332" x2="487" y2="1363"/><line x1="487" y1="1363" x2="451" y2="1363"/><line x1="451" y1="1363" x2="432" y2="1332"/><line x1="432" y1="1332" x2="451" y2="1301"/><line x1="451" y1="1301" x2="469" y2="1332"/><line x1="505" y1="1332" x2="541" y2="1332"/></g>
<g class="nodes"><circle class="b" cx="451" cy="1301" r="5"/><circle class="b" cx="487" cy="1301" r="5"/><circle class="b" cx="505" cy="1332" r="5"/><circle class="b" cx="487" cy="1363" r="5"/><circle class="b" cx="451" cy="1363" r="5"/><circle class="b" cx="432" cy="1332" r="5"/><circle class="w" cx="469" cy="1332" r="5"/><circle class="g" cx="541" cy="1332" r="5"/></g></g>
<g id="g68"><g class="edges"><line x1="590" y1="1301" x2="626" y2="1301"/><line x1="626" y1="1301" x2="644" y2="1332"/><line x1="644" y1="1332" x2="626" y2="1363"/><line x1="626" y1="1363" x2="590" y2="1363"/><line x1="590" y1="1363" x2="571" y2="1332"/><line x1="571" y1="1332" x2="590" y2="1301"/><line x1="571" y1="1332" x2="607" y2="1332"/><line x1="644" y1="1332" x2="680" y2="1332"/></g>
<g class="nodes"><circle class="b" cx="590" cy="1301" r="5"/><circle class="b" cx="626" cy="1301" r="5"/><circle class="b" cx="644" cy="1332" r="5"/><circle class="b" cx="626" cy="1363" r="5"/><circle class="b" cx="590" cy="1363" r="5"/><circle class="b" cx="571" cy="1332" r="5"/><circle class="w" cx="607" cy="1332" r="5"/><circle class="g" cx="680" cy="1332" r="5"/></g></g>
<g id="g69"><g class="edges"><line x1="737" y1="1296" x2="767" y2="1303"/><line x1="767" y1="1303" x2="782" y2="1332"/><line x1="782" y1="1332" x2="767" y2="1361"/><line x1="767" y1="1361" x2="737" y2="1368"/><line x1="737" y1="1368" x2="711" y2="1349"/><line x1="711" y1="1349" x2="711" y2="1317"/><line x1="711" y1="1317" x2="737" y2="1296"/><line x1="711" y1="1317" x2="743" y2="1332"/><line x1="782" y1="1332" x2="818" y2="1332"/></g>
<g class="nodes"><circle class="b" cx="737" cy="1296" r="5"/><circle class="b" cx="767" cy="1303" r="5"/><circle class="b" cx="782" cy="1332" r="5"/><circle class="b" cx="767" cy="1361" r="5"/><circle class="b" cx="737" cy="1368" r="5"/><circle class="b" cx="711" cy="1349" r="5"/><circle class="b" cx="711" cy="1317" r="5"/><circle class="w" cx="743" cy="1332" r="5"/><circle class="g" cx="818" cy="1332" r="5"/></g></g>
<g id="g70"><g class="edges"><line x1="885" y1="1296" x2="911" y2="1307"/><line x1="911" y1="1307" x2="921" y2="1332"/><line x1="921" y1="1332" x2="911" y2="1357"/><line x1="911" y1="1357" x2="885" y2="1368"/><line x1="885" y1="1368" x2="859" y2="1357"/><line x1="859" y1="1357" x2="849" y2="1332"/><line x1="849" y1="1332" x2="859" y2="1307"/><line x1="859" y1="1307" x2="885" y2="1296"/><line x1="849" y1="1332" x2="885" y2="1332"/><line x1="921" y1="1332" x2="958" y2="1332"/></g>
<g class="nodes"><circle class="b" cx="885" cy="1296" r="5"/><circle class="b" cx="911" cy="1307" r="5"/><circle class="b" cx="921" cy="1332" r="5"/><circle class="b" cx="911" cy="1357" r="5"/><circle class="b" cx="885" cy="1368" r="5"/><circle class="b" cx="859" cy="1357" r="5"/><circle class="b" cx="849" cy="1332" r="5"/><circle class="b" cx="859" cy="1307" r="5"/><circle class="w" cx="885" cy="1332" r="5"/><circle class="g" cx="958" cy="1332" r="5"/></g></g>
<!-- Row 11 -->
<g id="g71"><g class="edges"><line x1="43" y1="1445" x2="16" y2="1472"/><line x1="43" y1="1445" x2="70" y2="1472"/><line x1="16" y1="1472" x2="43" y2="1499"/><line x1="70" y1="1472" x2="43" y2="1499"/><line x1="70" y1="1472" x2="97" y2="1472"/><line x1="97" y1="1472" x2="125" y2="1472"/></g>
<g class="nodes"><circle class="b" cx="43" cy="1445" r="5"/><circle class="g" cx="16" cy="1472" r="5"/><circle class="b" cx="70" cy="1472" r="5"/><circle class="b" cx="43" cy="1499" r="5"/><circle class="b" cx="97" cy="1472" r="5"/><circle class="w" cx="125" cy="1472" r="5"/></g>
<g class="labels"><text x="85" y="1478">4</text></g></g>
<g id="g72"><g class="edges"><line x1="191" y1="1418" x2="228" y2="1418"/><line x1="191" y1="1418" x2="155" y2="1472"/><line x1="228" y1="1418" x2="263" y2="1472"/><line x1="155" y1="1472" x2="263" y2="1472"/><line x1="155" y1="1472" x2="209" y2="1527"/><line x1="263" y1="1472" x2="209" y2="1527"/></g>
<g class="nodes"><circle class="w" cx="191" cy="1418" r="5"/><circle class="g" cx="228" cy="1418" r="5"/><circle class="b" cx="155" cy="1472" r="5"/><circle class="b" cx="263" cy="1472" r="5"/><circle class="b" cx="209" cy="1527" r="5"/></g></g>
<g id="g73"><g class="edges"><line x1="348" y1="1418" x2="294" y2="1472"/><line x1="348" y1="1418" x2="403" y2="1472"/><line x1="294" y1="1472" x2="348" y2="1472"/><line x1="348" y1="1472" x2="403" y2="1472"/><line x1="294" y1="1472" x2="348" y2="1527"/><line x1="403" y1="1472" x2="348" y2="1527"/></g>
<g class="nodes"><circle class="g" cx="348" cy="1418" r="5"/><circle class="b" cx="294" cy="1472" r="5"/><circle class="w" cx="348" cy="1472" r="5"/><circle class="b" cx="403" cy="1472" r="5"/><circle class="b" cx="348" cy="1527" r="5"/></g>
<g class="labels"><text x="321" y="1505">4</text><text x="376" y="1505">4</text></g></g>
<g id="g74"><g class="edges"><line x1="469" y1="1418" x2="505" y2="1418"/><line x1="469" y1="1418" x2="432" y2="1472"/><line x1="505" y1="1418" x2="541" y2="1472"/><line x1="432" y1="1472" x2="487" y2="1472"/><line x1="487" y1="1472" x2="541" y2="1472"/><line x1="432" y1="1472" x2="487" y2="1527"/><line x1="541" y1="1472" x2="487" y2="1527"/></g>
<g class="nodes"><circle class="w" cx="469" cy="1418" r="5"/><circle class="g" cx="505" cy="1418" r="5"/><circle class="b" cx="432" cy="1472" r="5"/><circle class="b" cx="487" cy="1472" r="5"/><circle class="b" cx="541" cy="1472" r="5"/><circle class="b" cx="487" cy="1527" r="5"/></g></g>
</svg>
